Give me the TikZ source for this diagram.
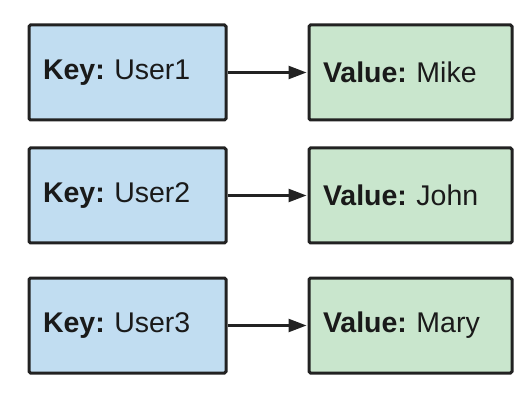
\documentclass[tikz,border=0pt]{standalone}
\usepackage{fontspec}
\setmainfont{Liberation Sans}
\usetikzlibrary{arrows.meta}
\frenchspacing
\definecolor{keyblue}{RGB}{193,221,241}
\definecolor{valgreen}{RGB}{201,230,205}
\definecolor{edge}{RGB}{34,34,34}
\definecolor{ink}{RGB}{26,26,26}
\tikzset{
  box/.style={draw=edge, line width=3pt, rounded corners=1.5pt, anchor=north west,
    inner xsep=14pt, inner ysep=0pt, minimum height=95pt, align=left,
    font=\fontsize{28.5}{30}\selectfont, text=ink},
  keybox/.style={box, fill=keyblue, text width=169pt},
  valbox/.style={box, fill=valgreen, text width=175pt},
  link/.style={draw=edge, line width=2.5pt, -{Triangle[length=18pt,width=13pt]}, shorten >=1pt}
}
\begin{document}
\begin{tikzpicture}[x=1pt,y=-1pt]
\useasboundingbox (0,0) rectangle (528,409);
\node[keybox] (k1) at (27.5,23.5) {\frenchspacing\textbf{Key:} User1};
\node[valbox] (v1) at (307.5,23.5) {\frenchspacing\textbf{Value:} Mike};
\node[keybox] (k2) at (27.5,146.5) {\frenchspacing\textbf{Key:} User2};
\node[valbox] (v2) at (307.5,146.5) {\frenchspacing\textbf{Value:} John};
\node[keybox] (k3) at (27.5,276.5) {\frenchspacing\textbf{Key:} User3};
\node[valbox] (v3) at (307.5,276.5) {\frenchspacing\textbf{Value:} Mary};
\draw[link] (k1.east) -- (v1.west);
\draw[link] (k2.east) -- (v2.west);
\draw[link] (k3.east) -- (v3.west);
\end{tikzpicture}
\end{document}
